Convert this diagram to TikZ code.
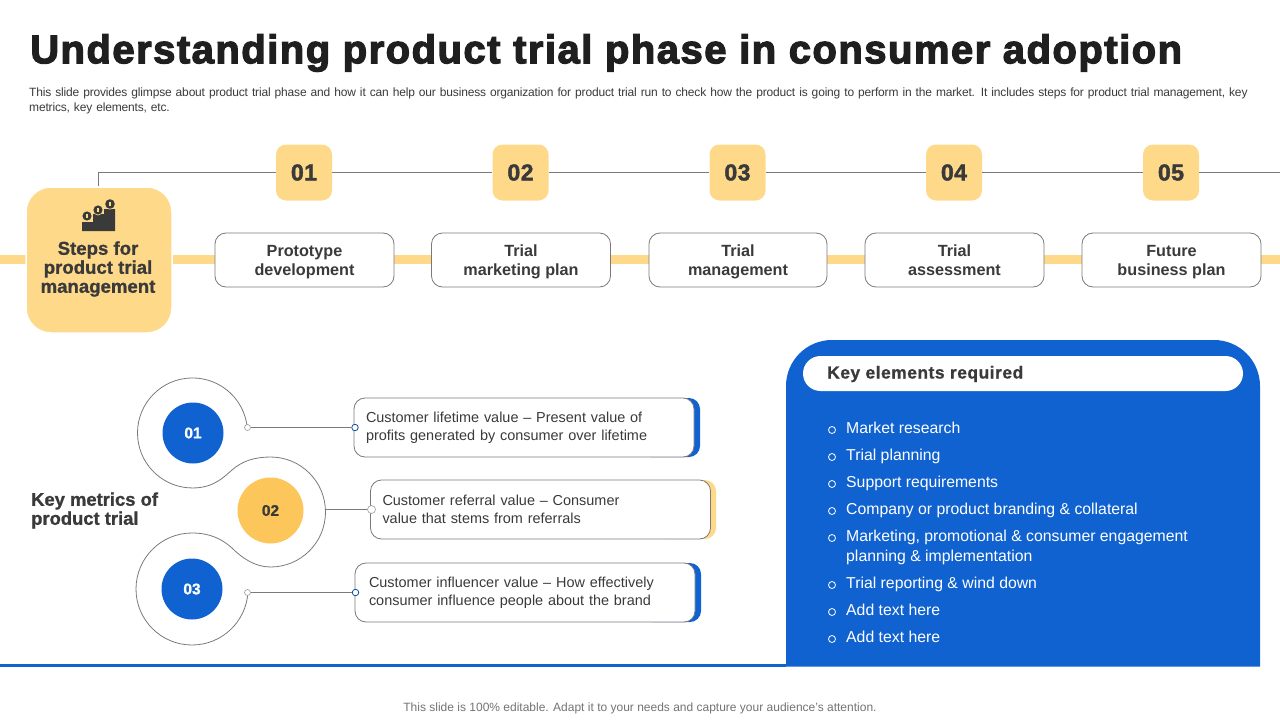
\documentclass[tikz,border=0pt]{standalone}
\usepackage{fontspec}
\setmainfont{Liberation Sans}
\newfontfamily\blk[FakeBold=3,LetterSpace=3.7]{Liberation Sans Bold}
\newfontfamily\hvy[FakeBold=1.0]{Liberation Sans Bold}
\newfontfamily\hvyn[FakeBold=1.8,LetterSpace=2]{Liberation Sans Bold}
\newfontfamily\semi[FakeBold=0.8,LetterSpace=3]{Liberation Sans Bold}
\definecolor{ylw}{HTML}{FFD98A}
\definecolor{amber}{HTML}{FDC65A}
\definecolor{blu}{HTML}{1062D0}
\definecolor{ink}{HTML}{3A3A3A}
\definecolor{rule}{HTML}{7A7A7A}
\newcommand{\fs}[2]{\fontsize{#1}{#2}\selectfont}
\newcommand{\st}{\rule[-3.5pt]{0pt}{19pt}}
\tikzset{
 numbox/.style={fill=ylw,rounded corners=10pt,minimum width=56pt,minimum height=56pt,inner sep=0pt,text=ink,font=\hvyn\fs{23}{26}},
 stepbox/.style={fill=white,draw=rule,line width=.8pt,rounded corners=11pt,minimum height=54pt,inner sep=0pt,align=center,text=ink,font=\bfseries\fs{16.2}{19}},
 card/.style={fill=white,draw=rule,line width=.8pt,rounded corners=11pt,minimum width=340pt,minimum height=59pt,inner ysep=0pt,inner xsep=12pt,text width=316pt,align=left,text=ink,font=\fs{14.45}{18}},
 accent/.style={rounded corners=11pt,minimum width=60pt,minimum height=59pt,inner sep=0pt},
 ball/.style={circle,inner sep=0pt,font=\hvy\fs{15.5}{18}},
 dotg/.style={circle,fill=white,draw=black!35,line width=.7pt,inner sep=0pt,minimum size=6pt},
 dotb/.style={circle,fill=white,draw=blu!80!black,line width=.8pt,inner sep=0pt,minimum size=6.5pt},
 itemtxt/.style={anchor=north west,inner sep=0pt,text=white,font=\fs{15.8}{20},align=left},
 bul/.style={circle,draw=white,line width=.8pt,inner sep=0pt,minimum size=7pt},
 thinline/.style={draw=rule,line width=1pt},
}
\begin{document}
\begin{tikzpicture}[x=1pt,y=-1pt]
\useasboundingbox (0,0) rectangle (1280,720);
% title and notes
\node[anchor=west,inner sep=0pt,text=black!88,font=\blk\fs{40}{42}] (title) at (30,53) {Understanding product trial phase in consumer adoption};
\node[anchor=north west,inner sep=0pt,text=ink,text width=1245pt,align=left,font=\fs{12}{15}] (desc) at (29,88) {\addfontfeature{LetterSpace=-1.45}This slide provides glimpse about product trial phase and how it can help our business organization for product trial run to check how the product is going to perform in the market. It includes steps for product trial management, key\\metrics, key elements, etc.};
% timeline band
\coordinate (bandL) at (0,259.5);
\coordinate (bandR) at (1280,259.5);
\draw[ylw,line width=9pt] (bandL) -- (bandR);
% main box
\node[fill=ylw,draw=white,line width=1.5pt,rounded corners=25pt,minimum width=146pt,minimum height=146pt,inner sep=0pt] (main) at (99,260) {};
\node[inner sep=0pt,align=center,text=ink,font=\hvy\fs{18.6}{19}] (maintxt) at (98,269) {Steps for\\product trial\\management};
% icon
\fill[ink] (82,231) -- (82,222) -- (93,222) -- (93,214) -- (104,214) -- (104,209) -- (115,209) -- (115,231) -- cycle;
\foreach \cx/\cy/\r in {87/216/4.6,98/210/4.6,110/204/4.8}{
  \fill[ylw] (\cx,\cy) circle (\r+0.8);
  \fill[ink] (\cx,\cy) circle (\r);
  \fill[ylw] (\cx-0.7,\cy-2.2) rectangle (\cx+0.7,\cy+2.2);
}
% numbers
\node[numbox] (n1) at (304,172.5) {01};
\node[numbox] (n2) at (520.5,172.5) {02};
\node[numbox] (n3) at (737.5,172.5) {03};
\node[numbox] (n4) at (954,172.5) {04};
\node[numbox] (n5) at (1171,172.5) {05};
\coordinate (lineEnd) at (1280,172.5);
\draw[thinline] ([xshift=-1pt]main.north) |- (n1.west);
\draw[thinline] (n1.east) -- (n2.west);
\draw[thinline] (n2.east) -- (n3.west);
\draw[thinline] (n3.east) -- (n4.west);
\draw[thinline] (n4.east) -- (n5.west);
\draw[thinline] (n5.east) -- (lineEnd);
% steps
\node[stepbox,minimum width=179pt] (s1) at (304.5,260) {Prototype\st\\development\st};
\node[stepbox,minimum width=179pt] (s2) at (521,260) {Trial\st\\marketing plan\st};
\node[stepbox,minimum width=178pt] (s3) at (738,260) {Trial\st\\management\st};
\node[stepbox,minimum width=179pt] (s4) at (954.5,260) {Trial\st\\assessment\st};
\node[stepbox,minimum width=179pt] (s5) at (1171.5,260) {Future\st\\business plan\st};
% metrics
\node[anchor=west,inner sep=0pt,align=left,text=ink,font=\hvy\fs{18.4}{19}] (kmt) at (31,510.5) {Key metrics of\\product trial};
\draw[draw=rule,line width=.8pt] (247.2,427.2) arc[start angle=-6,end angle=-270,radius=55]
  .. controls (212,488) and (222,479) .. (232,470)
  .. controls (242,461) and (255,457) .. (270.5,457)
  arc[start angle=-90,end angle=90,radius=55]
  .. controls (255,567) and (242,558) .. (232,548)
  .. controls (222,539) and (210,533) .. (192,533)
  arc[start angle=-90,end angle=-357,radius=56];
\node[ball,fill=blu,minimum size=61pt,text=white] (b1) at (193,433) {01};
\node[ball,fill=amber,minimum size=66pt,text=ink] (b2) at (270.5,510.5) {02};
\node[ball,fill=blu,minimum size=61pt,text=white] (b3) at (192,589) {03};
% accents and cards
\node[accent,fill=blu] (a1) at (670,427.5) {};
\node[accent,fill=ylw] (a2) at (686,509.5) {};
\node[accent,fill=blu] (a3) at (671,592.5) {};
\node[card] (c1) at (524,427.5) {Customer lifetime value -- Present value of\\profits generated by consumer over lifetime};
\node[card] (c2) at (540.5,509.5) {Customer referral value -- Consumer\\value that stems from referrals};
\node[card] (c3) at (525,592.5) {\hspace*{2pt}Customer influencer value -- How effectively\\\hspace*{2pt}consumer influence people about the brand};
\node[dotg] (d1) at (247.5,427.5) {};
\node[dotg] (d3) at (247.5,592.5) {};
\coordinate (d2) at (325.5,509.5);
\node[dotb] (e1) at (355,427.5) {};
\node[dotg,minimum size=8pt] (e2) at (371.5,509.5) {};
\node[dotb] (e3) at (355.5,592.5) {};
\draw[thinline,line width=.9pt] (d1) -- (e1);
\draw[thinline,line width=.9pt] (d2) -- (e2);
\draw[thinline,line width=.9pt] (d3) -- (e3);
% bottom rule and panel
\coordinate (ruleL) at (0,665.5);
\coordinate (ruleR) at (786,665.5);
\draw[blu,line width=3pt] (ruleL) -- (ruleR);
\fill[blu] (786,666.5) -- (786,386) arc[start angle=180,end angle=270,radius=46] -- (1214,340) arc[start angle=270,end angle=360,radius=46] -- (1260,666.5) -- cycle;
\node[fill=white,rounded corners=17.5pt,minimum width=440pt,minimum height=35pt,inner sep=0pt] (pill) at (1023,373.5) {};
\node[anchor=west,inner sep=0pt,text=ink,font=\semi\fs{17.4}{20}] (pilltxt) at (827,374) {Key elements required};
% bullet list
\foreach \y/\t [count=\i] in {428/Market research,455/Trial planning,482/Support requirements,509/Company or product branding \& collateral,536/{Marketing, promotional \& consumer engagement\\planning \& implementation},583/Trial reporting \& wind down,610/Add text here,637/Add text here}{
  \node[bul] (b\i x) at (832,\y+2) {};
  \node[itemtxt] (t\i) at (846,\y-6.5) {\t};
}
\node[inner sep=0pt,text=black!55,font=\fs{12}{14}] (foot) at (640,708) {This slide is 100\% editable. Adapt it to your needs and capture your audience's attention.};
\end{tikzpicture}
\end{document}
